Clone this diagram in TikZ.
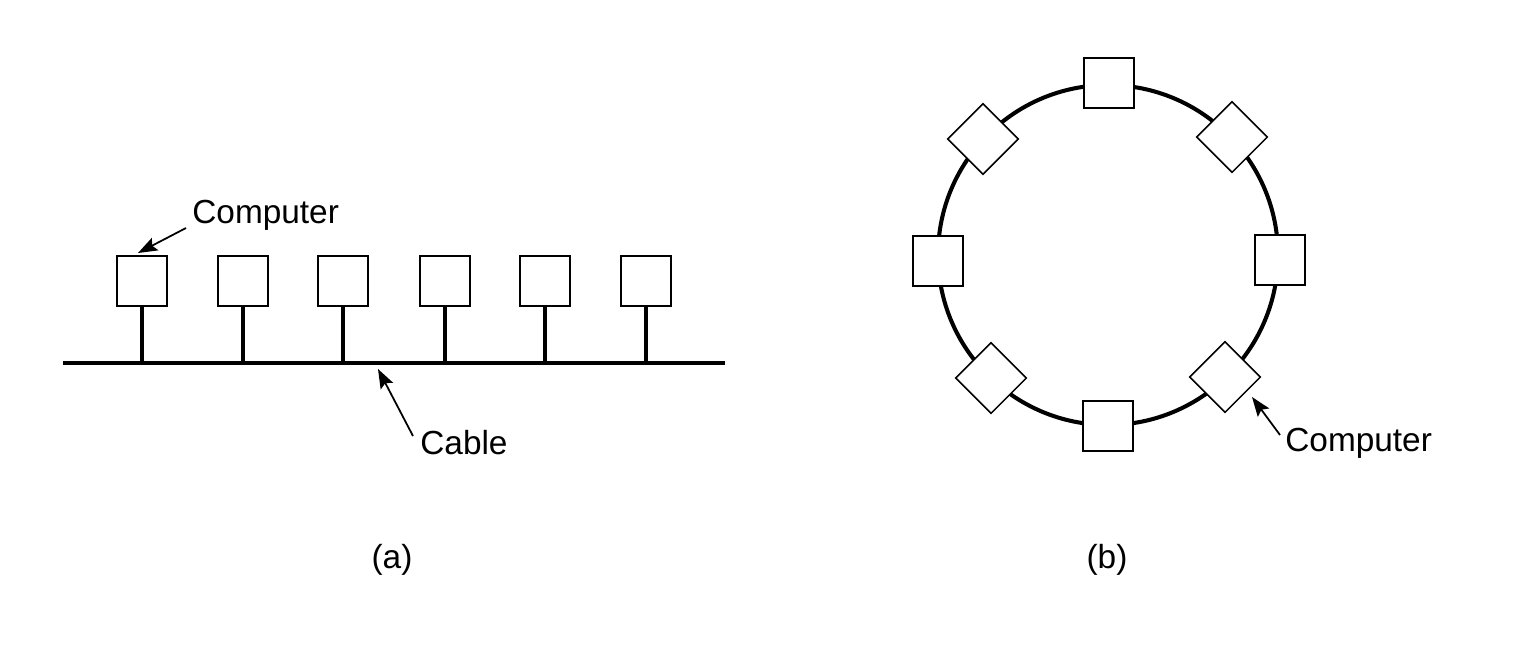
\documentclass[tikz,border=0pt]{standalone}
\usepackage{fontspec}
\setmainfont{Liberation Sans}
\usetikzlibrary{arrows.meta}
\begin{document}
\begin{tikzpicture}[x=0.02cm,y=-0.02cm,
  comp/.style={draw,line width=0.9pt,fill=white,minimum size=1cm,inner sep=0pt},
  lbl/.style={inner sep=0pt,font=\fontsize{19}{22}\selectfont},
  arr/.style={line width=1pt,-{Stealth[length=11pt,width=8pt,inset=2pt]}},
  thick cable/.style={line width=2.3pt},
  stem/.style={line width=1.8pt}]
\useasboundingbox (0,0) rectangle (1514,646);
% (a) bus
\coordinate (cL) at (63,363);
\coordinate (cR) at (725,363);
\draw[thick cable] (cL) -- (cR);
\foreach \i/\x in {1/142,2/243,3/343,4/445,5/545,6/646}{
  \node[comp] (b\i) at (\x,281) {};
  \draw[stem] (b\i.south) -- (b\i.south |- cL);
}
\node[lbl,anchor=west] (compA) at (192,215) {Computer};
\coordinate (ca0) at (186,228);
\coordinate (ca1) at (138,253);
\draw[arr] (ca0) -- (ca1);
\node[lbl,anchor=west] (cable) at (420,443) {Cable};
\coordinate (cb0) at (413,436);
\coordinate (cb1) at (378,369);
\draw[arr] (cb0) -- (cb1);
\node[lbl] (la) at (392,560) {(a)};
% (b) ring
\node[circle,draw,line width=2.3pt,minimum size=6.8cm,inner sep=0pt] (ring) at (1108,255) {};
\node[comp] (r1) at (1109,83) {};
\node[comp] (r2) at (1232,137) [rotate=45] {};
\node[comp] (r3) at (1280,260) {};
\node[comp] (r4) at (1225,377) [rotate=45] {};
\node[comp] (r5) at (1108,426) {};
\node[comp] (r6) at (991,378) [rotate=45] {};
\node[comp] (r7) at (938,261) {};
\node[comp] (r8) at (983,139) [rotate=45] {};
\node[lbl,anchor=west] (compB) at (1285,443) {Computer};
\coordinate (cc0) at (1280,435);
\coordinate (cc1) at (1252,397);
\draw[arr] (cc0) -- (cc1);
\node[lbl] (lb) at (1107,560) {(b)};
\end{tikzpicture}
\end{document}
